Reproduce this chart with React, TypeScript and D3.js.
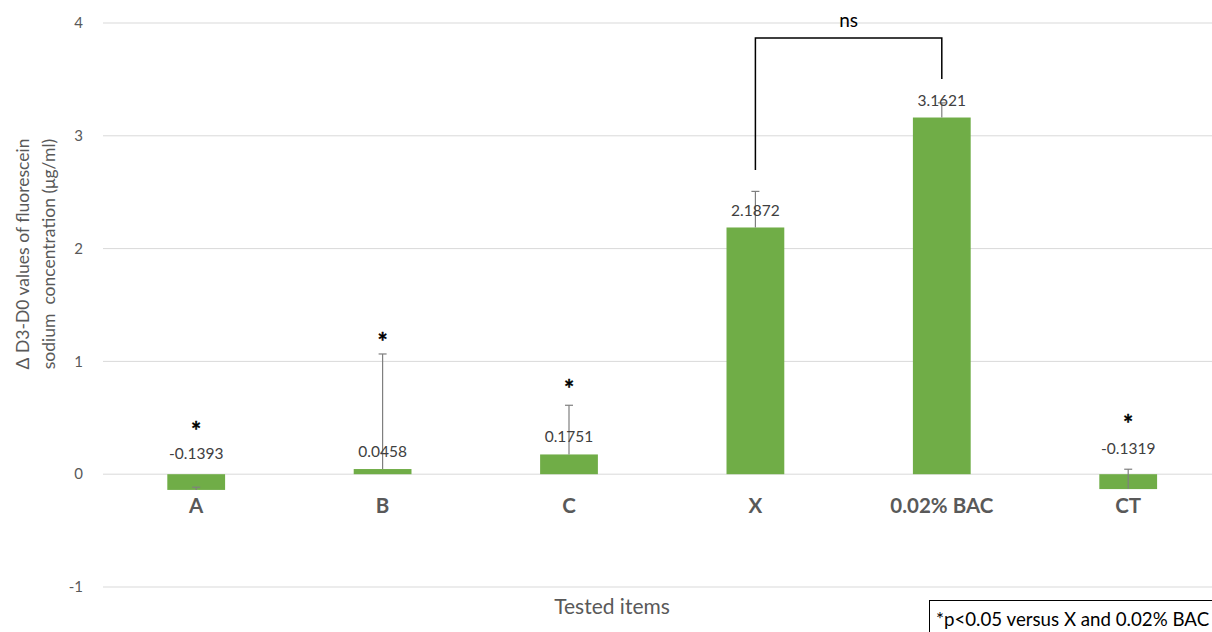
import React from "react";
import * as d3 from "d3";

const categories = ["A", "B", "C", "X", "0.02% BAC", "CT"];
const values = [-0.1393, 0.0458, 0.1751, 2.1872, 3.1621, -0.1319];
const errors = [0.024, 1.02, 0.436, 0.32, 0.13, 0.176];
const valueLabels = ["-0.1393", "0.0458", "0.1751", "2.1872", "3.1621", "-0.1319"];
const significant = [true, true, true, false, false, true];
const yTicks = [-1, 0, 1, 2, 3, 4];

const W = 1212;
const H = 632;
const FONT = "Lato, 'Open Sans', sans-serif";
const GRAY = "#595959";

export default function App() {
  const left = 103;
  const bandW = 186.4;
  const x = d3
    .scaleBand<string>()
    .domain(categories)
    .range([left, left + bandW * categories.length])
    .paddingInner(0.69)
    .paddingOuter(0.345);
  const y = d3.scaleLinear().domain([-1, 4]).range([587, 23]);
  const bw = x.bandwidth();
  const cx = (c: string) => (x(c) as number) + bw / 2;

  const ix = cx("X");
  const ib = cx("0.02% BAC");

  return (
    <svg width={W} height={H} style={{ position: "absolute", left: 0, top: 0, background: "#fff" }}>
      {yTicks.map((t) => (
        <g key={t}>
          <line x1={left} x2={W} y1={y(t)} y2={y(t)} stroke="#d9d9d9" strokeWidth={1} />
          <text x={83} y={y(t)} dy="0.35em" textAnchor="end" fontSize={15} fill={GRAY} fontFamily={FONT}>
            {t}
          </text>
        </g>
      ))}
      {categories.map((c, i) => {
        const v = values[i];
        const top = Math.min(y(v), y(0));
        const h = Math.abs(y(v) - y(0));
        const e = v + errors[i];
        return (
          <g key={c}>
            <rect x={x(c)} y={top} width={bw} height={h} fill="#70AD47" />
            <line x1={cx(c)} x2={cx(c)} y1={y(v)} y2={y(e)} stroke="#7f7f7f" strokeWidth={1.2} />
            <line x1={cx(c) - 4} x2={cx(c) + 4} y1={y(e)} y2={y(e)} stroke="#7f7f7f" strokeWidth={1.2} />
            <text
              x={cx(c)}
              y={[454, 452, 437, 211, 101, 449][i]}
              dy="0.35em"
              textAnchor="middle"
              fontSize={15.5}
              fill="#404040"
              fontFamily={FONT}
            >
              {valueLabels[i]}
            </text>
            {significant[i] && (
              <text
                x={cx(c)}
                y={[428, 339, 386, 0, 0, 421][i] + 12}
                textAnchor="middle"
                fontSize={24}
                fontWeight="bold"
                fill="#000"
                stroke="#000"
                strokeWidth={0.4}
                fontFamily={FONT}
              >
                *
              </text>
            )}
            <text
              x={cx(c)}
              y={506}
              dy="0.35em"
              textAnchor="middle"
              fontSize={20.5}
              fontWeight="bold"
              fill={GRAY}
              fontFamily={FONT}
            >
              {c}
            </text>
          </g>
        );
      })}
      <path d={`M${ix},170 V38 H${ib} V79`} fill="none" stroke="#000" strokeWidth={1.5} />
      <text x={(ix + ib) / 2} y={20} dy="0.35em" textAnchor="middle" fontSize={19} fill="#000" fontFamily={FONT}>
        ns
      </text>
      <g transform="translate(36,254) rotate(-90)">
        <text x={0} y={-13} textAnchor="middle" fontSize={17.5} fill={GRAY} fontFamily={FONT} dy="0.35em">
          Δ D3-D0 values of fluorescein
        </text>
        <text x={0} y={13} textAnchor="middle" fontSize={17.5} fill={GRAY} fontFamily={FONT} dy="0.35em" xmlSpace="preserve">
          sodium  concentration (μg/ml)
        </text>
      </g>
      <text x={612} y={607} dy="0.35em" textAnchor="middle" fontSize={21} fill={GRAY} fontFamily={FONT}>
        Tested items
      </text>
      <rect x={929.5} y={600.5} width={300} height={40} fill="#fff" stroke="#000" strokeWidth={1} />
      <text x={936} y={619} dy="0.35em" fontSize={18.7} fill="#000" fontFamily={FONT}>
        *p&lt;0.05 versus X and 0.02% BAC
      </text>
    </svg>
  );
}
